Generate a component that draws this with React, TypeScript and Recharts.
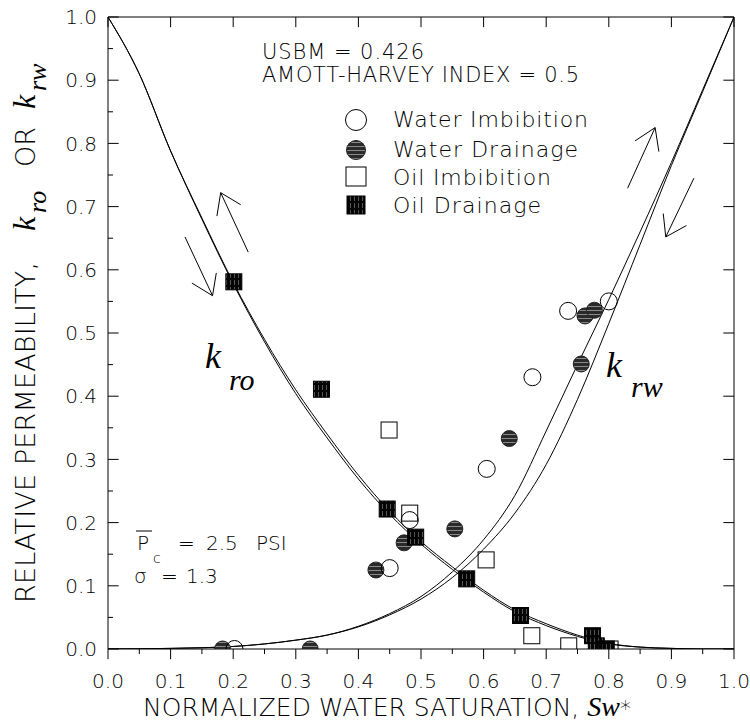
import React from 'react'
import {
  ComposedChart,
  Line,
  Scatter,
  XAxis,
  YAxis,
  ReferenceLine,
  Customized,
} from 'recharts'

// normalized water saturation grid for the model curves
const curveSw = [0, 0.05, 0.1, 0.15, 0.2, 0.25, 0.3, 0.35, 0.4, 0.45, 0.5, 0.55, 0.6, 0.65, 0.7, 0.75, 0.8, 0.85, 0.9, 0.95, 1]
const kroA = [1.0, 0.91, 0.788, 0.682, 0.58, 0.49, 0.41, 0.34, 0.275, 0.218, 0.17, 0.13, 0.093, 0.062, 0.04, 0.022, 0.009, 0.003, 0.001, 0, 0]
const kroB = [1.0, 0.91, 0.788, 0.68, 0.578, 0.486, 0.404, 0.334, 0.269, 0.213, 0.166, 0.126, 0.09, 0.059, 0.037, 0.02, 0.008, 0.003, 0.001, 0, 0]
const krwA = [0, 0.0003, 0.001, 0.002, 0.004, 0.008, 0.014, 0.022, 0.036, 0.056, 0.083, 0.122, 0.173, 0.243, 0.345, 0.45, 0.553, 0.66, 0.77, 0.885, 1.0]
const krwB = [0, 0.0003, 0.001, 0.002, 0.004, 0.008, 0.014, 0.022, 0.035, 0.054, 0.079, 0.113, 0.158, 0.215, 0.292, 0.395, 0.515, 0.64, 0.765, 0.882, 1.0]

// measured points
const waterImbSw = [0.202, 0.45, 0.482, 0.605, 0.678, 0.735, 0.8]
const waterImbKr = [0, 0.128, 0.204, 0.285, 0.43, 0.535, 0.55]
const waterDrnSw = [0.183, 0.323, 0.428, 0.473, 0.554, 0.641, 0.756, 0.762, 0.777]
const waterDrnKr = [0, 0, 0.125, 0.168, 0.19, 0.333, 0.451, 0.527, 0.536]
const oilImbSw = [0.449, 0.482, 0.604, 0.677, 0.736, 0.802]
const oilImbKr = [0.3465, 0.215, 0.141, 0.021, 0.005, 0]
const oilDrnSw = [0.201, 0.341, 0.446, 0.4915, 0.573, 0.659, 0.774, 0.78, 0.796]
const oilDrnKr = [0.581, 0.411, 0.2215, 0.177, 0.111, 0.053, 0.021, 0.005, 0]

const majorTicks = [0, 0.1, 0.2, 0.3, 0.4, 0.5, 0.6, 0.7, 0.8, 0.9, 1.0]
const minorTicks = [0.05, 0.15, 0.25, 0.35, 0.45, 0.55, 0.65, 0.75, 0.85, 0.95]

// hand-drawn direction arrows (data coords)
const arrowTail = [[0.224, 0.628], [0.123, 0.652], [0.83, 0.729], [0.936, 0.745]]
const arrowTip = [[0.18, 0.722], [0.167, 0.559], [0.874, 0.825], [0.891, 0.652]]
const arrowWingA = [[0.174, 0.685], [0.134, 0.579], [0.842, 0.804], [0.887, 0.689]]
const arrowWingB = [[0.212, 0.703], [0.173, 0.595], [0.88, 0.787], [0.924, 0.67]]

const pts = (xs: number[], ys: number[]) => xs.map((x, i) => ({ x, y: ys[i] }))

const SANS = '"DejaVu Sans", sans-serif'
const SERIF = '"Liberation Serif", serif'
const W = 300 // thin strokes like the plotter font

function OpenCircle(p: any) {
  return <circle cx={p.cx} cy={p.cy} r={8.5} fill="none" stroke="#000" strokeWidth={1} />
}
function StripedCircle(p: any) {
  return <circle cx={p.cx} cy={p.cy} r={8} fill="url(#hstripe)" stroke="#222" strokeWidth={1} />
}
function OpenSquare(p: any) {
  return <rect x={p.cx - 8} y={p.cy - 8} width={16} height={16} fill="none" stroke="#000" strokeWidth={1} />
}
function StripedSquare(p: any) {
  return <rect x={p.cx - 8} y={p.cy - 8} width={16} height={16} fill="url(#vstripe)" stroke="#000" strokeWidth={1} />
}

function Annotations() {
  const legend = [
    { label: 'Water Imbibition', base: 127, len: 195, mark: <circle cx={356} cy={120} r={10.5} fill="#fff" stroke="#000" /> },
    { label: 'Water Drainage', base: 157, len: 185, mark: <circle cx={356} cy={150} r={9.5} fill="url(#hstripe)" stroke="#222" /> },
    { label: 'Oil Imbibition', base: 185, len: 158, mark: <rect x={346} y={167} width={20} height={19} fill="#fff" stroke="#000" /> },
    { label: 'Oil Drainage', base: 213, len: 148, mark: <rect x={347} y={196} width={18} height={18} fill="url(#vstripe)" stroke="#000" /> },
  ]
  return (
    <g fontWeight={W} fill="#000">
      <defs>
        <pattern id="hstripe" patternUnits="userSpaceOnUse" width={4} height={4}>
          <rect width={4} height={4} fill="#2a2a2a" />
          <rect y={2} width={4} height={1} fill="#8a8a8a" />
        </pattern>
        <pattern id="vstripe" patternUnits="userSpaceOnUse" width={4} height={7}>
          <rect width={4} height={7} fill="#050505" />
          <rect x={2} y={0} width={1} height={5} fill="#555" />
        </pattern>
      </defs>

      {/* index text */}
      <text x={262} y={59} fontFamily={SANS} fontSize={21} textLength={162} lengthAdjust="spacing">USBM = 0.426</text>
      <text x={262} y={82} fontFamily={SANS} fontSize={21} textLength={317} lengthAdjust="spacing">AMOTT-HARVEY INDEX = 0.5</text>

      {legend.map((l) => (
        <g key={l.label}>
          {l.mark}
          <text x={393} y={l.base} fontFamily={SANS} fontSize={22} textLength={l.len} lengthAdjust="spacing">{l.label}</text>
        </g>
      ))}

      {/* Pc and sigma */}
      <text x={137} y={550} fontFamily={SANS} fontSize={20}>P</text>
      <line x1={136} x2={152} y1={531} y2={531} stroke="#000" strokeWidth={1} />
      <text x={153} y={563} fontFamily={SANS} fontSize={14}>c</text>
      <text x={178} y={550} fontFamily={SANS} fontSize={20}>=</text>
      <text x={206} y={550} fontFamily={SANS} fontSize={20}>2.5</text>
      <text x={256} y={550} fontFamily={SANS} fontSize={20}>PSI</text>
      <text x={134} y={583} fontFamily={SANS} fontSize={20}>σ</text>
      <text x={161} y={583} fontFamily={SANS} fontSize={20}>=</text>
      <text x={186} y={583} fontFamily={SANS} fontSize={20}>1.3</text>

      {/* curve labels */}
      <text x={205} y={368} fontFamily={SERIF} fontStyle="italic" fontWeight={400} fontSize={36}>k</text>
      <text x={229} y={390} fontFamily={SERIF} fontStyle="italic" fontWeight={400} fontSize={30}>ro</text>
      <text x={606} y={377} fontFamily={SERIF} fontStyle="italic" fontWeight={400} fontSize={36}>k</text>
      <text x={631} y={397} fontFamily={SERIF} fontStyle="italic" fontWeight={400} fontSize={30}>rw</text>

      {/* x title */}
      <text x={143} y={716} fontFamily={SANS} fontSize={25}>
        NORMALIZED WATER SATURATION,{' '}
        <tspan fontFamily={SERIF} fontStyle="italic" fontWeight={400} fontSize={28}>Sw</tspan>
        <tspan fontSize={22}>*</tspan>
      </text>

      {/* y title */}
      <g transform="translate(35,603) rotate(-90)">
        <text x={0} y={0} fontFamily={SANS} fontSize={27} textLength={341} lengthAdjust="spacing">RELATIVE PERMEABILITY,</text>
        <text x={372} y={0} fontFamily={SERIF} fontStyle="italic" fontWeight={400} fontSize={32}>k</text>
        <text x={390} y={11} fontFamily={SERIF} fontStyle="italic" fontWeight={400} fontSize={26}>ro</text>
        <text x={436} y={0} fontFamily={SANS} fontSize={27}>OR</text>
        <text x={494} y={0} fontFamily={SERIF} fontStyle="italic" fontWeight={400} fontSize={32}>k</text>
        <text x={512} y={11} fontFamily={SERIF} fontStyle="italic" fontWeight={400} fontSize={26}>rw</text>
      </g>
    </g>
  )
}

export default function App() {
  const tickFont = { fontSize: 20, fill: '#000', fontFamily: SANS, fontWeight: W }
  return (
    <div style={{ position: 'absolute', left: 0, top: 0, background: '#fff' }}>
      <ComposedChart width={750} height={721} margin={{ top: 17, right: 16, bottom: 0, left: 0 }}>
        <XAxis
          type="number"
          dataKey="x"
          domain={[0, 1]}
          ticks={majorTicks}
          allowDataOverflow
          tickFormatter={(v: number) => v.toFixed(1)}
          tick={tickFont}
          tickLine={false}
          tickSize={10}
          tickMargin={15}
          height={72}
          axisLine={{ stroke: '#000' }}
        />
        <YAxis
          type="number"
          domain={[0, 1]}
          ticks={majorTicks}
          allowDataOverflow
          tickFormatter={(v: number) => v.toFixed(1)}
          tick={tickFont}
          tickLine={false}
          tickSize={4}
          tickMargin={7}
          width={108}
          axisLine={{ stroke: '#000' }}
        />

        <ReferenceLine y={1} stroke="#000" ifOverflow="visible" />
        <ReferenceLine x={1} stroke="#000" ifOverflow="visible" />

        {majorTicks.map((t) => (
          <ReferenceLine key={`l${t}`} segment={[{ x: 0, y: t }, { x: 0.017, y: t }]} stroke="#000" ifOverflow="visible" />
        ))}
        {minorTicks.map((t) => (
          <ReferenceLine key={`lm${t}`} segment={[{ x: 0, y: t }, { x: 0.008, y: t }]} stroke="#000" ifOverflow="visible" />
        ))}
        {majorTicks.map((t) => (
          <ReferenceLine key={`r${t}`} segment={[{ x: 0.983, y: t }, { x: 1, y: t }]} stroke="#000" ifOverflow="visible" />
        ))}
        {majorTicks.map((t) => (
          <ReferenceLine key={`t${t}`} segment={[{ x: t, y: 1 }, { x: t, y: 0.984 }]} stroke="#000" ifOverflow="visible" />
        ))}
        {majorTicks.map((t) => (
          <ReferenceLine key={`b${t}`} segment={[{ x: t, y: 0 }, { x: t, y: -0.016 }]} stroke="#000" ifOverflow="visible" />
        ))}
        {minorTicks.map((t) => (
          <ReferenceLine key={`bm${t}`} segment={[{ x: t, y: 0 }, { x: t, y: -0.008 }]} stroke="#000" ifOverflow="visible" />
        ))}

        {arrowTip.map((tip, i) => (
          <ReferenceLine key={`as${i}`} segment={[{ x: arrowTail[i][0], y: arrowTail[i][1] }, { x: tip[0], y: tip[1] }]} stroke="#000" ifOverflow="visible" />
        ))}
        {arrowTip.map((tip, i) => (
          <ReferenceLine key={`aa${i}`} segment={[{ x: arrowWingA[i][0], y: arrowWingA[i][1] }, { x: tip[0], y: tip[1] }]} stroke="#000" ifOverflow="visible" />
        ))}
        {arrowTip.map((tip, i) => (
          <ReferenceLine key={`ab${i}`} segment={[{ x: arrowWingB[i][0], y: arrowWingB[i][1] }, { x: tip[0], y: tip[1] }]} stroke="#000" ifOverflow="visible" />
        ))}

        <Line data={pts(curveSw, kroA)} dataKey="y" type="monotone" stroke="#000" strokeWidth={1} dot={false} isAnimationActive={false} />
        <Line data={pts(curveSw, kroB)} dataKey="y" type="monotone" stroke="#000" strokeWidth={1} dot={false} isAnimationActive={false} />
        <Line data={pts(curveSw, krwA)} dataKey="y" type="monotone" stroke="#000" strokeWidth={1} dot={false} isAnimationActive={false} />
        <Line data={pts(curveSw, krwB)} dataKey="y" type="monotone" stroke="#000" strokeWidth={1} dot={false} isAnimationActive={false} />

        <Scatter data={pts(waterDrnSw, waterDrnKr)} dataKey="y" shape={StripedCircle} isAnimationActive={false} />
        <Scatter data={pts(oilDrnSw, oilDrnKr)} dataKey="y" shape={StripedSquare} isAnimationActive={false} />
        <Scatter data={pts(waterImbSw, waterImbKr)} dataKey="y" shape={OpenCircle} isAnimationActive={false} />
        <Scatter data={pts(oilImbSw, oilImbKr)} dataKey="y" shape={OpenSquare} isAnimationActive={false} />

        <Customized component={Annotations} />
      </ComposedChart>
    </div>
  )
}
